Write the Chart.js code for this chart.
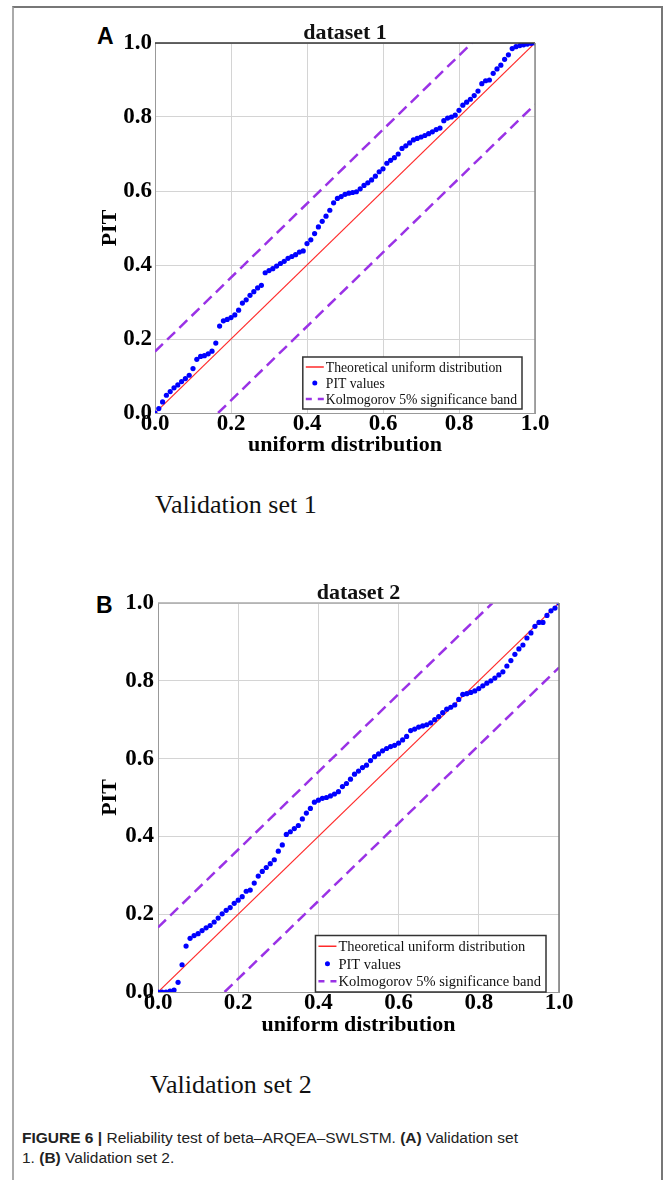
<!DOCTYPE html>
<html lang="en">
<head>
  <meta charset="UTF-8" />
  <title>Reliability test of beta-ARQEA-SWLSTM</title>
  <style>
    html, body {
      margin: 0;
      padding: 0;
      background: #fff;
    }
    #page {
      position: relative;
      width: 663px;
      height: 1180px;
      overflow: hidden;
      background: #fff;
    }
    #frame {
      position: absolute;
      left: 12px;
      top: 6px;
      width: 647px;
      height: 1200px;
      border-top: 2px solid #777;
      border-left: 2px solid #aaa;
      border-right: 2px solid #777;
    }
    canvas { position: absolute; }
    .panel-letter {
      position: absolute;
      font-family: "Liberation Sans", Arial, sans-serif;
      font-weight: bold;
      font-size: 23px;
      line-height: 1;
      color: #000;
    }
    .subcap {
      position: absolute;
      font-family: "Liberation Serif", "Times New Roman", serif;
      font-size: 26px;
      line-height: 1;
      color: #111;
    }
    #caption {
      position: absolute;
      left: 22px;
      top: 1128px;
      font-family: "Liberation Sans", Arial, sans-serif;
      font-size: 15.5px;
      line-height: 20px;
      color: #222;
      white-space: nowrap;
    }
  </style>
</head>
<body>
<div id="page">
  <div id="frame"></div>

  <div class="panel-letter" style="left:97px; top:25px;">A</div>
  <canvas id="chartA" width="475" height="451" style="left:80px; top:12px;"></canvas>
  <div class="subcap" style="left:155px; top:492px;">Validation set 1</div>

  <div class="panel-letter" style="left:96px; top:594px;">B</div>
  <canvas id="chartB" width="496" height="470" style="left:83px; top:572px;"></canvas>
  <div class="subcap" style="left:150px; top:1072px;">Validation set 2</div>

  <div id="caption"><b>FIGURE 6 |</b> Reliability test of beta–ARQEA–SWLSTM. <b>(A)</b> Validation set<br>1. <b>(B)</b> Validation set 2.</div>
</div>

<script src="https://cdn.jsdelivr.net/npm/chart.js"></script>
<script>
  // uniform quantiles (x) shared by both panels
  const quantiles = [
    0.00, 0.01, 0.02, 0.03, 0.04, 0.05, 0.06, 0.07, 0.08, 0.09,
    0.10, 0.11, 0.12, 0.13, 0.14, 0.15, 0.16, 0.17, 0.18, 0.19,
    0.20, 0.21, 0.22, 0.23, 0.24, 0.25, 0.26, 0.27, 0.28, 0.29,
    0.30, 0.31, 0.32, 0.33, 0.34, 0.35, 0.36, 0.37, 0.38, 0.39,
    0.40, 0.41, 0.42, 0.43, 0.44, 0.45, 0.46, 0.47, 0.48, 0.49,
    0.50, 0.51, 0.52, 0.53, 0.54, 0.55, 0.56, 0.57, 0.58, 0.59,
    0.60, 0.61, 0.62, 0.63, 0.64, 0.65, 0.66, 0.67, 0.68, 0.69,
    0.70, 0.71, 0.72, 0.73, 0.74, 0.75, 0.76, 0.77, 0.78, 0.79,
    0.80, 0.81, 0.82, 0.83, 0.84, 0.85, 0.86, 0.87, 0.88, 0.89,
    0.90, 0.91, 0.92, 0.93, 0.94, 0.95, 0.96, 0.97, 0.98, 0.99,
    1.00
  ];

  // sorted PIT values, validation set 1
  const pit1 = [
    0.000, 0.012, 0.030, 0.048, 0.058, 0.068, 0.076, 0.085, 0.093, 0.102,
    0.120, 0.145, 0.153, 0.155, 0.160, 0.167, 0.189, 0.235, 0.249, 0.253,
    0.258, 0.265, 0.278, 0.297, 0.306, 0.318, 0.328, 0.338, 0.345, 0.379,
    0.385, 0.390, 0.397, 0.404, 0.410, 0.418, 0.423, 0.428, 0.435, 0.438,
    0.458, 0.468, 0.485, 0.503, 0.518, 0.532, 0.548, 0.568, 0.580, 0.585,
    0.591, 0.594, 0.596, 0.598, 0.606, 0.615, 0.622, 0.630, 0.640, 0.652,
    0.660, 0.675, 0.683, 0.690, 0.700, 0.715, 0.722, 0.730, 0.738, 0.742,
    0.746, 0.750, 0.755, 0.760, 0.766, 0.770, 0.790, 0.797, 0.800, 0.805,
    0.818, 0.832, 0.840, 0.848, 0.858, 0.870, 0.890, 0.898, 0.900, 0.918,
    0.930, 0.940, 0.956, 0.968, 0.985, 0.990, 0.993, 0.995, 0.997, 0.999,
    1.000
  ];

  // sorted PIT values, validation set 2
  const pit2 = [
    0.000, 0.000, 0.000, 0.002, 0.005, 0.025, 0.070, 0.118, 0.138, 0.145,
    0.150, 0.158, 0.165, 0.171, 0.180, 0.190, 0.201, 0.210, 0.217, 0.228,
    0.236, 0.245, 0.259, 0.262, 0.280, 0.298, 0.310, 0.320, 0.330, 0.340,
    0.362, 0.378, 0.405, 0.412, 0.420, 0.428, 0.445, 0.460, 0.472, 0.488,
    0.493, 0.498, 0.500, 0.504, 0.509, 0.515, 0.528, 0.536, 0.547, 0.560,
    0.568, 0.577, 0.583, 0.595, 0.605, 0.612, 0.620, 0.626, 0.631, 0.634,
    0.640, 0.648, 0.657, 0.672, 0.676, 0.681, 0.684, 0.687, 0.692, 0.700,
    0.708, 0.718, 0.727, 0.732, 0.738, 0.752, 0.765, 0.767, 0.770, 0.774,
    0.780, 0.787, 0.794, 0.800, 0.807, 0.815, 0.823, 0.838, 0.852, 0.868,
    0.882, 0.892, 0.910, 0.923, 0.940, 0.950, 0.950, 0.968, 0.980, 0.987,
    1.000
  ];

  // reference line and Kolmogorov 5% band end points
  const diagX = [0, 1];
  const diagY = [0, 1];
  const upperBandX = [0, 0.834];
  const upperBandY = [0.166, 1];
  const lowerBandX = [0.166, 1];
  const lowerBandY = [0, 0.834];

  const tickLabels = ['0.0', '0.2', '0.4', '0.6', '0.8', '1.0'];
  const legendLabels = [
    'Theoretical uniform distribution',
    'PIT values',
    'Kolmogorov 5% significance band'
  ];

  const RED = '#ff2a2a';
  const BLUE = '#0000ff';
  const PURPLE = '#9a32e6';
  const SERIF = '"Liberation Serif", "Times New Roman", serif';

  const toPoints = (xs, ys) => xs.map((x, i) => ({ x, y: ys[i] }));

  // box around the plot area
  const plotFrame = {
    id: 'plotFrame',
    afterDraw(chart, args, opts) {
      const { ctx, chartArea: a } = chart;
      ctx.save();
      ctx.lineWidth = 1.5;
      ctx.strokeStyle = opts.top;
      ctx.beginPath(); ctx.moveTo(a.left, a.top); ctx.lineTo(a.right, a.top); ctx.stroke();
      ctx.strokeStyle = opts.right;
      ctx.beginPath(); ctx.moveTo(a.right, a.top); ctx.lineTo(a.right, a.bottom); ctx.stroke();
      ctx.restore();
    }
  };

  // legend box in the lower right corner of the plot
  const insideLegend = {
    id: 'insideLegend',
    afterDraw(chart, args, opts) {
      const { ctx, chartArea: a } = chart;
      ctx.save();
      ctx.font = opts.fontSize + 'px ' + SERIF;
      const textW = Math.max(...legendLabels.map(t => ctx.measureText(t).width));
      const w = 3 + opts.sample + 2 + textW + 5;
      const h = legendLabels.length * opts.rowH + 4;
      const x = a.right - opts.right - w;
      const y = a.bottom - opts.bottom - h;
      ctx.fillStyle = '#fff';
      ctx.fillRect(x, y, w, h);
      ctx.strokeStyle = '#333';
      ctx.lineWidth = 1.5;
      ctx.strokeRect(x, y, w, h);

      const sx = x + 3;
      const ex = sx + opts.sample;
      legendLabels.forEach((label, i) => {
        const cy = y + 2 + opts.rowH * (i + 0.5);
        if (i === 0) {
          ctx.strokeStyle = RED;
          ctx.lineWidth = 1.5;
          ctx.beginPath(); ctx.moveTo(sx, cy); ctx.lineTo(ex, cy); ctx.stroke();
        } else if (i === 1) {
          ctx.fillStyle = BLUE;
          ctx.beginPath(); ctx.arc((sx + ex) / 2, cy, 2.5, 0, Math.PI * 2); ctx.fill();
        } else {
          ctx.strokeStyle = PURPLE;
          ctx.lineWidth = 2.5;
          ctx.setLineDash([6, 6]);
          ctx.beginPath(); ctx.moveTo(sx, cy); ctx.lineTo(ex, cy); ctx.stroke();
          ctx.setLineDash([]);
        }
        ctx.fillStyle = '#111';
        ctx.textBaseline = 'middle';
        ctx.textAlign = 'left';
        ctx.fillText(label, ex + 2, cy + 1);
      });
      ctx.restore();
    }
  };

  function makeChart(id, title, pit, cfg) {
    const ctx = document.getElementById(id).getContext('2d');
    return new Chart(ctx, {
      type: 'scatter',
      data: {
        datasets: [
          {
            label: legendLabels[1],
            data: toPoints(quantiles, pit),
            backgroundColor: BLUE,
            borderColor: BLUE,
            pointRadius: 2.6,
            pointBorderWidth: 0,
            showLine: false
          },
          {
            label: legendLabels[0],
            data: toPoints(diagX, diagY),
            borderColor: RED,
            borderWidth: 1.2,
            pointRadius: 0,
            showLine: true
          },
          {
            label: legendLabels[2],
            data: toPoints(upperBandX, upperBandY),
            borderColor: PURPLE,
            borderWidth: 2.5,
            borderDash: [11, 6],
            pointRadius: 0,
            showLine: true
          },
          {
            label: '',
            data: toPoints(lowerBandX, lowerBandY),
            borderColor: PURPLE,
            borderWidth: 2.5,
            borderDash: [11, 6],
            pointRadius: 0,
            showLine: true
          }
        ]
      },
      options: {
        responsive: false,
        animation: false,
        devicePixelRatio: 1,
        layout: { padding: { left: 0, right: 20, top: 0, bottom: 0 } },
        scales: {
          x: {
            type: 'linear',
            min: 0,
            max: 1,
            afterFit: s => { s.height = 50; },
            border: { color: '#999', width: 1 },
            grid: { color: '#d4d4d4', drawTicks: false },
            ticks: {
              stepSize: 0.2,
              padding: -3,
              color: '#000',
              font: { family: SERIF, size: 23, weight: 'bold' },
              maxRotation: 0,
              callback: (v, i) => tickLabels[i]
            },
            title: {
              display: true,
              text: 'uniform distribution',
              color: '#000',
              font: { family: SERIF, size: 22, weight: 'bold', lineHeight: 1.2 },
              padding: { top: 0, bottom: cfg.xTitlePad }
            }
          },
          // top axis only carries the panel title, centred on the plot
          xTop: {
            type: 'linear',
            position: 'top',
            min: 0,
            max: 1,
            afterFit: s => { s.height = 31; },
            border: { display: false },
            grid: { display: false },
            ticks: { display: false },
            title: {
              display: true,
              text: title,
              color: '#111',
              font: { family: SERIF, size: 22, weight: 'bold', lineHeight: 1.0 },
              padding: { top: 10, bottom: 0 }
            }
          },
          y: {
            type: 'linear',
            min: 0,
            max: 1,
            afterFit: s => { s.width = 75; },
            border: { color: '#999', width: 1 },
            grid: { color: '#d4d4d4', drawTicks: false },
            ticks: {
              stepSize: 0.2,
              padding: cfg.yTickPad,
              color: '#000',
              font: { family: SERIF, size: 23, weight: 'bold' },
              callback: (v, i) => tickLabels[i]
            },
            title: {
              display: true,
              text: 'PIT',
              color: '#000',
              font: { family: SERIF, size: 22, weight: 'bold', lineHeight: 1.2 },
              padding: { top: cfg.yTitlePad, bottom: 0 }
            }
          }
        },
        plugins: {
          legend: { display: false },
          tooltip: { enabled: false },
          plotFrame: cfg.frame,
          insideLegend: cfg.legend
        }
      },
      plugins: [plotFrame, insideLegend]
    });
  }

  makeChart('chartA', 'dataset 1', pit1, {
    xTitlePad: 4,
    yTitlePad: 17,
    yTickPad: 3,
    frame: { top: '#333', right: '#888' },
    legend: { fontSize: 13.7, rowH: 16, sample: 18, right: 13, bottom: 4 }
  });

  makeChart('chartB', 'dataset 2', pit2, {
    xTitlePad: 3,
    yTitlePad: 14,
    yTickPad: 4,
    frame: { top: '#aaa', right: '#777' },
    legend: { fontSize: 14.5, rowH: 17.5, sample: 18, right: 13, bottom: 0 }
  });
</script>
</body>
</html>
